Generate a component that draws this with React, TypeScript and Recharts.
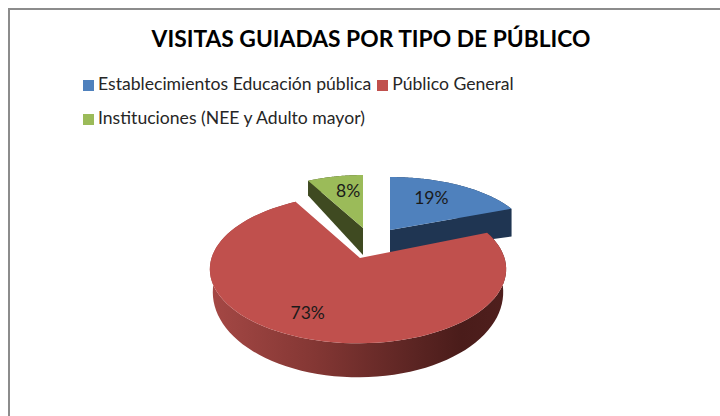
import React from "react";
import { PieChart, Pie, Cell, Legend } from "recharts";

const categories = ["Establecimientos Educación pública", "Público General", "Instituciones (NEE y Adulto mayor)"];
const shares = [19, 73, 8];
const colors = ["#4f81bd", "#c0504d", "#9bbb59"];
const wallColors = ["#1f3552", "url(#redWall)", "#3f4a21"];
const tableData = categories.map((name, i) => ({ name, value: shares[i] }));

const RX = 146.5;
const RY = 72.5;
const K = 0.15;
const CX = 358;
const CY = 258;

type Geo = { ax: number; ay: number; tip: number; sx: number; sy: number; hA: number; hB: number; bx: number; face: "start" | "end" | null; lx: number; ly: number };
const geometry: Geo[] = [
  { ax: 390, ay: 230, tip: 390, sx: 0.94, sy: 0.84, hA: 23, hB: -13, bx: 1, face: "end", lx: 0.6, ly: 0.72 },
  { ax: 358, ay: 258, tip: 360, sx: 1, sy: 1, hA: 21, hB: 13, bx: 0.98, face: null, lx: 0.87, ly: 0.68 },
  { ax: 363, ay: 228, tip: 363, sx: 0.88, sy: 0.84, hA: 27, hB: 14, bx: 1, face: "start", lx: 0.53, ly: 0.73 },
];

function project(g: Geo, deg: number, drop: boolean) {
  const t = ((90 - deg) * Math.PI) / 180;
  const u = Math.sin(t);
  const v = -Math.cos(t);
  const w = 1 / (1 - K * v);
  const h = drop ? g.hA + g.hB * v : 0;
  const bx = drop ? g.bx : 1;
  return {
    x: g.ax + RX * u * w * g.sx * bx,
    y: g.ay + RY * v * w * g.sy + h,
  };
}

function arc(g: Geo, a0: number, a1: number, drop: boolean) {
  const n = 90;
  const pts: string[] = [];
  for (let i = 0; i <= n; i++) {
    const p = project(g, a0 + ((a1 - a0) * i) / n, drop);
    pts.push(`${p.x.toFixed(2)},${p.y.toFixed(2)}`);
  }
  return pts;
}

function Slice3D(props: any) {
  const { startAngle, endAngle, name, payload, fill } = props;
  const idx = categories.indexOf(name ?? payload?.name);
  const g = geometry[idx];
  const top = arc(g, startAngle, endAngle, false);
  const bottom = arc(g, startAngle, endAngle, true);
  const wall = [...top, ...bottom.slice().reverse()].join(" ");
  const apex = `${g.tip},${g.ay}`;
  const apexLow = `${g.tip},${g.ay + g.hA}`;
  const faceAngle = g.face === "start" ? startAngle : endAngle;
  const f0 = project(g, faceAngle, false);
  const f1 = project(g, faceAngle, true);
  return (
    <g>
      <defs>
        <linearGradient id="redWall" gradientUnits="userSpaceOnUse" x1="210" y1="0" x2="506" y2="0">
          <stop offset="0" stopColor="#a54845" />
          <stop offset="0.35" stopColor="#843734" />
          <stop offset="0.7" stopColor="#5a2422" />
          <stop offset="0.85" stopColor="#4a1c1a" />
          <stop offset="1" stopColor="#4f1f1d" />
        </linearGradient>
      </defs>
      <polygon points={wall} fill={wallColors[idx]} />
      {g.face && (
        <polygon
          points={`${apex} ${f0.x},${f0.y} ${f1.x},${f1.y} ${apexLow}`}
          fill={wallColors[idx]}
        />
      )}
      <polygon points={`${apex} ${top.join(" ")}`} fill={fill} />
    </g>
  );
}

function renderLabel(props: any) {
  const { midAngle, value, name } = props;
  const idx = categories.indexOf(name);
  const g = geometry[idx];
  const p = project(g, midAngle, false);
  const x = g.ax + (p.x - g.ax) * g.lx;
  const y = g.ay + (p.y - g.ay) * g.ly;
  return (
    <text x={x} y={y} textAnchor="middle" dominantBaseline="central" fontFamily="Lato, 'Open Sans', sans-serif" fontSize={17.5} fill="#1a1a1a">
      {`${value}%`}
    </text>
  );
}

export default function App() {
  return (
    <div style={{ position: "absolute", left: 0, top: 0, width: 720, height: 416, background: "#fff", overflow: "hidden" }}>
      <div style={{ position: "absolute", left: 8, top: 8, width: 720, height: 416, borderLeft: "2px solid #8c8c8c", borderTop: "2px solid #8c8c8c" }} />
      <div
        style={{
          position: "absolute",
          left: 0,
          width: 742,
          top: 23,
          textAlign: "center",
          fontFamily: "Lato, 'Open Sans', sans-serif",
          fontWeight: 700,
          fontSize: 22.8,
          lineHeight: "30px",
          color: "#000",
          whiteSpace: "nowrap",
        }}
      >
        VISITAS GUIADAS POR TIPO DE PÚBLICO
      </div>
      <div style={{ position: "absolute", left: 0, top: 0 }}>
        <PieChart width={720} height={416}>
          <Legend
            layout="horizontal"
            verticalAlign="top"
            align="left"
            iconType="square"
            iconSize={11}
            itemSorter={null}
            wrapperStyle={{
              left: 83,
              top: 67,
              width: 460,
              textAlign: "left",
              fontFamily: "Lato, 'Open Sans', sans-serif",
              fontSize: 17.6,
              lineHeight: "34px",
            }}
            formatter={(value: string) => (
              <span style={{ color: "#262626", display: "inline-block", whiteSpace: "nowrap", marginRight: -4 }}>{value}</span>
            )}
          />
          <Pie
            data={tableData}
            dataKey="value"
            nameKey="name"
            cx={CX}
            cy={CY}
            outerRadius={RX}
            startAngle={90}
            endAngle={-270}
            stroke="none"
            isAnimationActive={false}
            shape={Slice3D}
            label={renderLabel}
            labelLine={false}
          >
            {tableData.map((d, i) => (
              <Cell key={d.name} fill={colors[i]} />
            ))}
          </Pie>
        </PieChart>
      </div>
    </div>
  );
}
